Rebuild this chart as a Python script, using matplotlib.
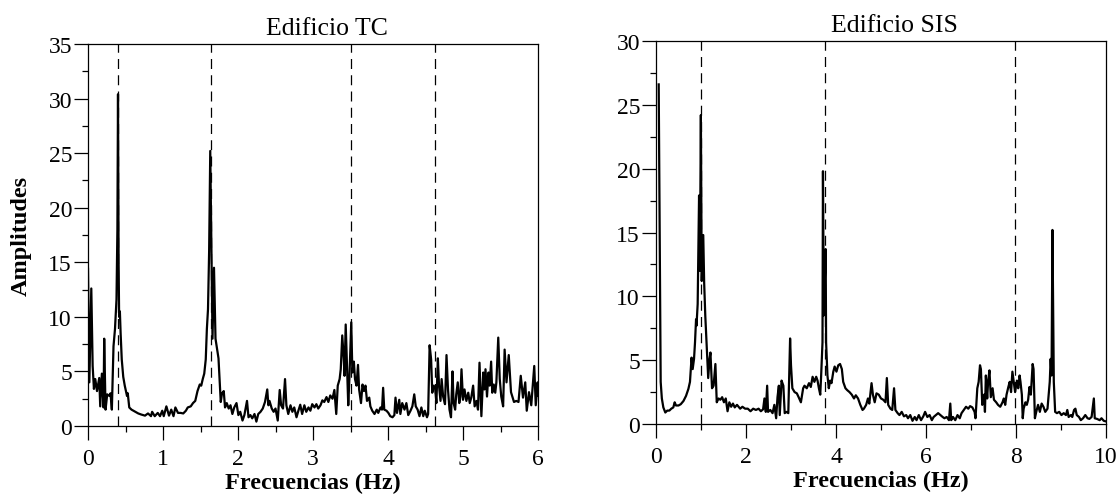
import numpy as np
import matplotlib
matplotlib.use("Agg")
import matplotlib.pyplot as plt
from matplotlib.ticker import MultipleLocator

# ---------- DATA ----------
freq_tc = [0.000, 0.018, 0.044, 0.062, 0.079, 0.097, 0.120, 0.150, 0.163, 0.185,
           0.207, 0.216, 0.234, 0.256, 0.287, 0.300, 0.318, 0.340, 0.360, 0.380,
           0.392, 0.400, 0.408, 0.415, 0.425, 0.435, 0.450, 0.470, 0.490, 0.520,
           0.530, 0.550, 0.580, 0.630, 0.670, 0.710, 0.760, 0.800, 0.840, 0.855,
           0.890, 0.930, 0.960, 0.990, 1.010, 1.045, 1.080, 1.110, 1.140, 1.165,
           1.200, 1.235, 1.270, 1.305, 1.330, 1.370, 1.400, 1.430, 1.460, 1.490,
           1.510, 1.530, 1.550, 1.570, 1.585, 1.600, 1.615, 1.630, 1.645, 1.660,
           1.680, 1.700, 1.720, 1.740, 1.756, 1.770, 1.787, 1.810, 1.827, 1.850,
           1.876, 1.900, 1.925, 1.950, 1.980, 2.005, 2.030, 2.060, 2.085, 2.120,
           2.140, 2.165, 2.190, 2.220, 2.245, 2.270, 2.300, 2.330, 2.360, 2.390,
           2.405, 2.420, 2.450, 2.475, 2.500, 2.530, 2.556, 2.575, 2.600, 2.627,
           2.645, 2.670, 2.700, 2.725, 2.750, 2.780, 2.805, 2.830, 2.855, 2.885,
           2.910, 2.940, 2.965, 2.990, 3.020, 3.045, 3.070, 3.100, 3.125, 3.150,
           3.180, 3.205, 3.230, 3.260, 3.285, 3.310, 3.330, 3.355, 3.370, 3.390,
           3.410, 3.420, 3.436, 3.454, 3.470, 3.485, 3.510, 3.525, 3.545, 3.560,
           3.580, 3.600, 3.615, 3.640, 3.660, 3.680, 3.700, 3.720, 3.750, 3.765,
           3.790, 3.820, 3.850, 3.870, 3.900, 3.920, 3.935, 3.950, 3.980, 4.005,
           4.030, 4.060, 4.085, 4.100, 4.120, 4.150, 4.165, 4.190, 4.220, 4.245,
           4.270, 4.300, 4.325, 4.350, 4.370, 4.395, 4.420, 4.445, 4.470, 4.490,
           4.520, 4.535, 4.555, 4.575, 4.590, 4.610, 4.630, 4.645, 4.665, 4.680,
           4.700, 4.715, 4.735, 4.760, 4.780, 4.800, 4.820, 4.840, 4.860, 4.875,
           4.895, 4.910, 4.930, 4.950, 4.965, 4.980, 5.000, 5.020, 5.045, 5.070,
           5.090, 5.110, 5.135, 5.155, 5.180, 5.200, 5.220, 5.245, 5.270, 5.285,
           5.300, 5.320, 5.340, 5.355, 5.375, 5.390, 5.410, 5.430, 5.445, 5.470,
           5.490, 5.510, 5.535, 5.555, 5.580, 5.610, 5.640, 5.680, 5.710, 5.740,
           5.770, 5.800, 5.830, 5.850, 5.880, 5.910, 5.950, 5.970, 5.995, 6.000]
amp_tc = [14.4, 4.0, 12.6, 5.5, 3.4, 4.3, 3.2, 4.4, 1.8, 4.8,
          1.7, 8.0, 1.5, 2.9, 2.75, 3.0, 1.5, 7.3, 8.9, 11.6,
          18.0, 30.4, 15.0, 10.0, 10.5, 8.5, 6.1, 4.5, 3.7, 2.75,
          3.0, 1.7, 1.5, 1.3, 1.15, 1.05, 0.95, 1.15, 0.9, 1.3,
          0.9, 1.2, 0.9, 1.4, 0.9, 1.8, 0.95, 1.5, 0.9, 1.7,
          1.2, 1.2, 1.15, 1.4, 1.7, 1.8, 2.1, 2.3, 3.2, 3.8,
          3.7, 4.3, 4.8, 6.1, 8.9, 10.7, 16.0, 25.2, 16.5, 8.0,
          14.5, 8.0, 7.1, 6.2, 4.0, 2.2, 3.0, 3.2, 1.7, 2.1,
          1.6, 1.9, 1.1, 1.7, 2.1, 1.0, 1.3, 0.5, 1.0, 2.3,
          0.8, 1.0, 0.7, 1.1, 0.4, 1.1, 1.3, 1.6, 2.2, 3.35,
          1.9, 2.3, 1.6, 1.3, 1.6, 0.5, 3.3, 1.9, 1.6, 4.3,
          1.9, 1.1, 1.9, 1.3, 1.7, 0.8, 1.4, 1.95, 1.1, 1.9,
          1.3, 1.7, 1.4, 2.0, 1.7, 2.0, 1.6, 1.9, 2.35, 2.2,
          2.65, 2.2, 2.8, 2.5, 3.3, 1.1, 3.7, 4.3, 5.2, 8.3,
          6.2, 4.6, 9.3, 5.5, 1.9, 4.3, 9.5, 4.9, 5.9, 4.3,
          3.7, 5.6, 3.35, 2.1, 3.8, 3.2, 3.7, 2.3, 2.6, 1.8,
          1.4, 1.1, 1.5, 1.2, 1.7, 1.5, 3.5, 1.5, 1.4, 1.2,
          0.9, 0.8, 1.0, 2.6, 1.2, 2.4, 1.1, 2.1, 1.5, 2.1,
          1.0, 1.4, 1.8, 2.9, 1.8, 1.5, 0.9, 1.7, 0.9, 1.4,
          0.8, 1.1, 7.4, 6.1, 3.05, 3.7, 3.35, 2.1, 6.2, 3.7,
          2.3, 4.3, 2.7, 2.0, 6.5, 3.35, 1.5, 0.8, 5.0, 2.1,
          1.5, 2.9, 4.0, 2.1, 2.7, 5.2, 2.4, 3.35, 2.3, 3.05,
          2.1, 2.6, 3.7, 1.8, 2.3, 1.5, 5.8, 0.9, 4.9, 3.35,
          5.2, 2.7, 4.9, 3.7, 5.9, 3.05, 3.8, 3.05, 4.0, 8.1,
          4.3, 2.7, 1.8, 7.0, 4.0, 6.5, 3.1, 2.2, 2.3, 2.2,
          4.6, 2.6, 4.0, 1.4, 3.1, 1.9, 5.5, 1.9, 4.0, 2.8]

freq_sis = [0.06, 0.104, 0.13, 0.163, 0.207, 0.25, 0.296, 0.34, 0.385, 0.415,
            0.444, 0.50, 0.55, 0.61, 0.667, 0.72, 0.755, 0.79, 0.815, 0.845,
            0.867, 0.89, 0.90, 0.926, 0.957, 0.975, 0.997, 1.016, 1.05, 1.07,
            1.095, 1.13, 1.16, 1.19, 1.21, 1.245, 1.28, 1.32, 1.35, 1.39,
            1.43, 1.47, 1.51, 1.55, 1.59, 1.63, 1.67, 1.71, 1.75, 1.80,
            1.87, 1.92, 1.98, 2.04, 2.10, 2.16, 2.22, 2.28, 2.33, 2.38,
            2.41, 2.44, 2.47, 2.49, 2.54, 2.59, 2.63, 2.67, 2.70, 2.73,
            2.75, 2.79, 2.83, 2.86, 2.90, 2.94, 2.98, 3.00, 3.03, 3.08,
            3.13, 3.17, 3.22, 3.27, 3.30, 3.35, 3.40, 3.44, 3.48, 3.52,
            3.56, 3.59, 3.62, 3.65, 3.67, 3.70, 3.71, 3.73, 3.77, 3.78,
            3.81, 3.84, 3.87, 3.90, 3.94, 3.97, 4.01, 4.05, 4.09, 4.13,
            4.16, 4.21, 4.25, 4.30, 4.35, 4.40, 4.44, 4.49, 4.54, 4.59,
            4.62, 4.67, 4.71, 4.74, 4.79, 4.82, 4.86, 4.90, 4.95, 5.00,
            5.05, 5.10, 5.13, 5.16, 5.21, 5.25, 5.29, 5.32, 5.37, 5.41,
            5.46, 5.51, 5.56, 5.60, 5.65, 5.70, 5.75, 5.79, 5.84, 5.89,
            5.94, 5.98, 6.03, 6.08, 6.13, 6.17, 6.22, 6.27, 6.32, 6.37,
            6.41, 6.46, 6.51, 6.54, 6.56, 6.60, 6.65, 6.70, 6.75, 6.79,
            6.84, 6.89, 6.94, 6.98, 7.03, 7.08, 7.10, 7.14, 7.17, 7.20,
            7.22, 7.25, 7.29, 7.31, 7.33, 7.36, 7.38, 7.41, 7.44, 7.48,
            7.51, 7.56, 7.60, 7.65, 7.70, 7.73, 7.76, 7.79, 7.83, 7.86,
            7.89, 7.92, 7.95, 7.98, 8.02, 8.05, 8.08, 8.10, 8.13, 8.15,
            8.17, 8.21, 8.24, 8.27, 8.30, 8.33, 8.37, 8.39, 8.42, 8.45,
            8.49, 8.53, 8.57, 8.61, 8.65, 8.70, 8.75, 8.77, 8.79, 8.81,
            8.84, 8.87, 8.91, 8.96, 9.01, 9.06, 9.11, 9.14, 9.17, 9.22,
            9.25, 9.29, 9.32, 9.35, 9.40, 9.44, 9.49, 9.54, 9.59, 9.63,
            9.68, 9.73, 9.75, 9.80, 9.86, 9.90, 9.95, 10.0]
amp_sis = [26.6, 3.3, 2.0, 1.3, 0.9, 1.05, 1.05, 1.2, 1.3, 1.7,
           1.45, 1.45, 1.55, 1.8, 2.2, 2.75, 3.3, 5.2, 4.3, 5.1,
           6.4, 8.2, 7.7, 9.4, 17.9, 12.0, 24.2, 11.2, 14.8, 11.1,
           8.5, 5.9, 3.6, 5.1, 5.6, 2.8, 3.0, 4.7, 1.7, 2.0,
           1.9, 2.1, 1.7, 2.0, 1.0, 1.7, 1.35, 1.6, 1.3, 1.5,
           1.2, 1.35, 1.2, 1.2, 1.0, 1.2, 1.1, 1.2, 1.0, 1.15,
           2.0, 0.95, 3.0, 0.95, 1.1, 0.85, 1.5, 0.45, 2.1, 3.0,
           0.7, 3.4, 3.0, 0.85, 0.95, 0.85, 6.7, 4.6, 2.8, 2.5,
           2.4, 2.1, 1.7, 2.8, 3.0, 2.8, 3.2, 2.9, 3.7, 3.3,
           3.7, 3.4, 2.8, 2.3, 3.8, 6.4, 19.8, 8.5, 13.7, 6.4,
           3.8, 2.8, 3.4, 3.2, 4.1, 4.5, 4.1, 4.6, 4.7, 4.3,
           3.3, 2.8, 2.65, 2.5, 2.3, 2.0, 2.25, 2.0, 1.5, 1.1,
           1.2, 1.5, 2.0, 1.6, 3.2, 2.3, 1.7, 2.4, 2.3, 2.0,
           1.9, 1.7, 3.6, 1.5, 1.2, 1.1, 2.8, 1.1, 0.85, 0.7,
           0.95, 0.6, 0.7, 0.45, 0.7, 0.25, 0.55, 0.3, 0.7, 0.3,
           0.6, 0.95, 0.55, 0.7, 0.3, 0.55, 0.7, 0.85, 0.7, 0.55,
           0.45, 0.55, 0.3, 1.6, 0.3, 0.55, 0.3, 0.7, 0.45, 0.85,
           1.1, 1.35, 1.2, 1.4, 1.3, 0.95, 0.45, 2.8, 3.3, 4.6,
           4.3, 1.5, 2.3, 0.95, 3.8, 2.0, 3.3, 4.2, 2.1, 2.8,
           1.9, 1.7, 1.5, 1.35, 1.7, 2.0, 1.5, 2.3, 2.9, 3.3,
           2.5, 4.1, 3.3, 2.5, 3.4, 2.8, 3.8, 3.3, 2.3, 0.45,
           1.2, 1.7, 1.5, 1.9, 2.9, 2.3, 4.7, 4.3, 0.45, 0.95,
           1.5, 0.95, 1.6, 1.35, 0.95, 1.2, 3.3, 5.1, 3.8, 15.2,
           3.3, 0.95, 0.85, 0.95, 0.7, 0.85, 0.7, 1.1, 0.55, 0.7,
           0.55, 1.1, 1.2, 0.7, 0.55, 0.3, 0.45, 0.7, 0.45, 0.4,
           0.55, 2.0, 0.45, 0.4, 0.3, 0.45, 0.25, 0.2]

modes_tc = [0.40, 1.645, 3.50, 4.62]
modes_sis = [1.0, 3.75, 7.98]

titles = ["Edificio TC", "Edificio SIS"]

# ---------- STYLE ----------
plt.rcParams['font.family'] = ['Liberation Serif', 'DejaVu Serif']
plt.rcParams['font.size'] = 17

fig = plt.figure(figsize=(11.2, 5.02), dpi=100)
ax1 = fig.add_axes([88 / 1120, 75 / 502, 450 / 1120, 382 / 502])
ax2 = fig.add_axes([656 / 1120, 77 / 502, 450 / 1120, 383 / 502])


def style_axis(ax, xmax, ymax, xminor):
    ax.set_xlim(0, xmax)
    ax.set_ylim(0, ymax)
    ax.yaxis.set_major_locator(MultipleLocator(5))
    ax.yaxis.set_minor_locator(MultipleLocator(2.5))
    ax.xaxis.set_minor_locator(MultipleLocator(xminor))
    ax.tick_params(which='major', direction='out', length=10, width=0.9)
    ax.tick_params(which='minor', direction='out', length=4.5, width=0.9)
    ax.tick_params(axis='x', which='major', pad=6)
    ax.tick_params(axis='y', which='major', pad=1.5)
    for s in ax.spines.values():
        s.set_linewidth(0.9)


# ---------- LEFT: TC ----------
for f in modes_tc:
    ax1.axvline(f, color='black', lw=0.9, linestyle=(0, (8, 5)), zorder=1)
ax1.plot(freq_tc, amp_tc, color='black', lw=1.6, zorder=2)
style_axis(ax1, 6, 35, 0.5)
ax1.xaxis.set_major_locator(MultipleLocator(1))
ax1.set_title(titles[0], fontsize=18.5, pad=7, x=0.53)
ax1.set_xlabel("Frecuencias (Hz)", fontweight='bold', fontsize=17.5, labelpad=2)
ax1.set_ylabel("Amplitudes", fontweight='bold', fontsize=17.5, labelpad=12)

# ---------- RIGHT: SIS ----------
for f in modes_sis:
    ax2.axvline(f, color='black', lw=0.9, linestyle=(0, (8, 5)), zorder=1)
ax2.plot(freq_sis, amp_sis, color='black', lw=1.6, zorder=2)
style_axis(ax2, 10, 30, 1)
ax2.xaxis.set_major_locator(MultipleLocator(2))
ax2.set_title(titles[1], fontsize=18.5, pad=7, x=0.53)
ax2.set_xlabel("Frecuencias (Hz)", fontweight='bold', fontsize=17.5, labelpad=2)

fig.savefig("out.png", dpi=100)
